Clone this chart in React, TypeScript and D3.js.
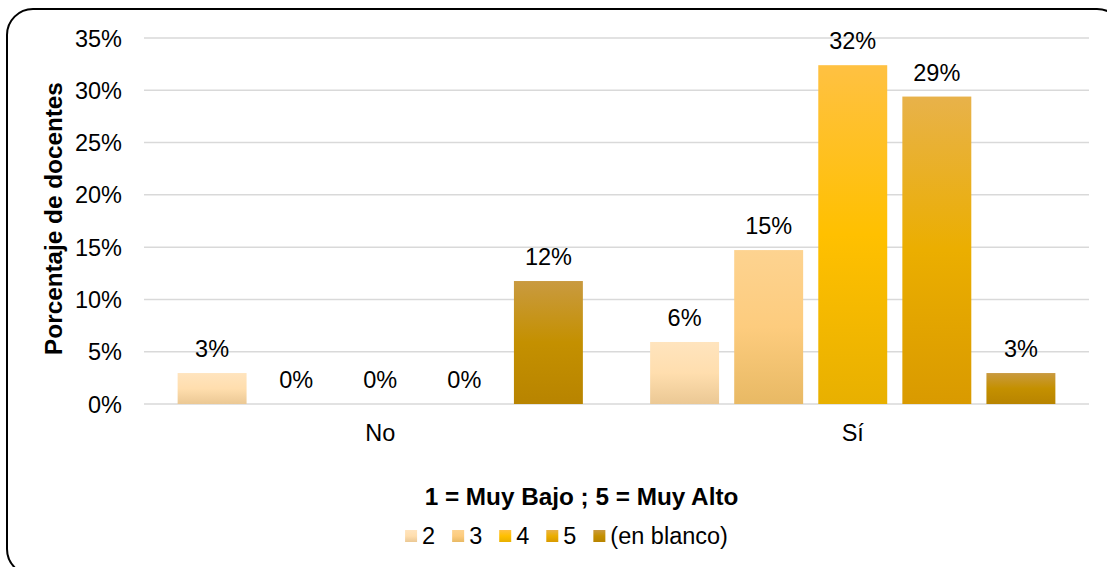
import React from 'react';
import * as d3 from 'd3';

const categories = ['No', 'Sí'];
const seriesKeys = ['2', '3', '4', '5', '(en blanco)'];
const noValues = [0.0296, 0, 0, 0, 0.1176];
const siValues = [0.0593, 0.1472, 0.324, 0.294, 0.0296];
const yTicks = [0, 0.05, 0.1, 0.15, 0.2, 0.25, 0.3, 0.35];

// top / middle / bottom stops of each series gradient
const gradients = [
  ['#FFE4BE', '#FFDEAE', '#EBC894'],
  ['#FDD390', '#FDCC7E', '#E8B964'],
  ['#FFC142', '#FFC000', '#E8B000'],
  ['#E8B24A', '#EBAE00', '#D99A00'],
  ['#C99A40', '#C49000', '#B88400'],
];

const W = 1107;
const H = 567;
const FONT = '"Liberation Sans", Arial, sans-serif';
const FS = 23.5;
const FSB = 24.3;

const measure = (() => {
  let ctx: CanvasRenderingContext2D | null = null;
  return (t: string, bold = false) => {
    if (!ctx) ctx = document.createElement('canvas').getContext('2d');
    if (!ctx) return t.length * FS * 0.55;
    ctx.font = `${bold ? 'bold ' : ''}${FS}px ${FONT}`;
    return ctx.measureText(t).width;
  };
})();

export default function App() {
  const values = [noValues, siValues];
  const x0 = d3.scaleBand<string>().domain(categories).range([144, 1089]);
  const x1 = d3
    .scaleBand<string>()
    .domain(seriesKeys)
    .range([0, x0.bandwidth()])
    .paddingInner(0.18)
    .paddingOuter(0.4);
  const y = d3.scaleLinear().domain([0, 0.35]).range([404, 38]);
  const pct = d3.format('.0%');

  // legend layout
  const sq = 12;
  const gapText = 5;
  const gapItem = 17;
  const widths = seriesKeys.map((k) => sq + gapText + measure(k));
  const total = d3.sum(widths) + gapItem * (seriesKeys.length - 1);
  let lx = 566.5 - total / 2;
  const legendX = widths.map((w) => {
    const p = lx;
    lx += w + gapItem;
    return p;
  });

  return (
    <svg width={W} height={H} style={{ display: 'block', position: 'absolute', left: 0, top: 0 }} fontFamily={FONT}>
      <defs>
        {gradients.map((g, i) => (
          <linearGradient key={i} id={`g${i}`} x1="0" y1="0" x2="0" y2="1">
            <stop offset="0" stopColor={g[0]} />
            <stop offset="0.5" stopColor={g[1]} />
            <stop offset="1" stopColor={g[2]} />
          </linearGradient>
        ))}
      </defs>
      <rect x={0} y={0} width={W} height={H} fill="#fff" />
      <rect x={7} y={9} width={1116} height={566} rx={26} fill="#fff" stroke="#000" strokeWidth={2} />

      {yTicks.map((t) => (
        <g key={t}>
          <line x1={144} x2={1089} y1={y(t)} y2={y(t)} stroke="#D9D9D9" strokeWidth={1.5} />
          <text x={122} y={y(t) + 8.5} textAnchor="end" fontSize={FS} fill="#000">
            {pct(t)}
          </text>
        </g>
      ))}

      {categories.map((c, ci) => (
        <g key={c} transform={`translate(${x0(c)},0)`}>
          {seriesKeys.map((k, si) => {
            const v = values[ci][si];
            const bx = x1(k) as number;
            return (
              <g key={k}>
                {v > 0 && (
                  <rect x={bx} y={y(v)} width={x1.bandwidth()} height={y(0) - y(v)} fill={`url(#g${si})`} />
                )}
                <text x={bx + x1.bandwidth() / 2} y={y(v) - 16} textAnchor="middle" fontSize={FS} fill="#000">
                  {pct(v)}
                </text>
              </g>
            );
          })}
          <text x={x0.bandwidth() / 2} y={441} textAnchor="middle" fontSize={FS} fill="#000">
            {c}
          </text>
        </g>
      ))}

      <text
        transform="translate(62,218.5) rotate(-90)"
        textAnchor="middle"
        fontSize={FSB}
        fontWeight="bold"
        fill="#000"
      >
        Porcentaje de docentes
      </text>

      <text x={581.5} y={505} textAnchor="middle" fontSize={FSB} fontWeight="bold" fill="#000">
        1 = Muy Bajo ; 5 = Muy Alto
      </text>
      {seriesKeys.map((k, i) => (
        <g key={k} transform={`translate(${legendX[i]},0)`}>
          <rect x={0} y={530} width={sq} height={sq} fill={`url(#g${i})`} />
          <text x={sq + gapText} y={544} fontSize={FS} fill="#000">
            {k}
          </text>
        </g>
      ))}
    </svg>
  );
}
